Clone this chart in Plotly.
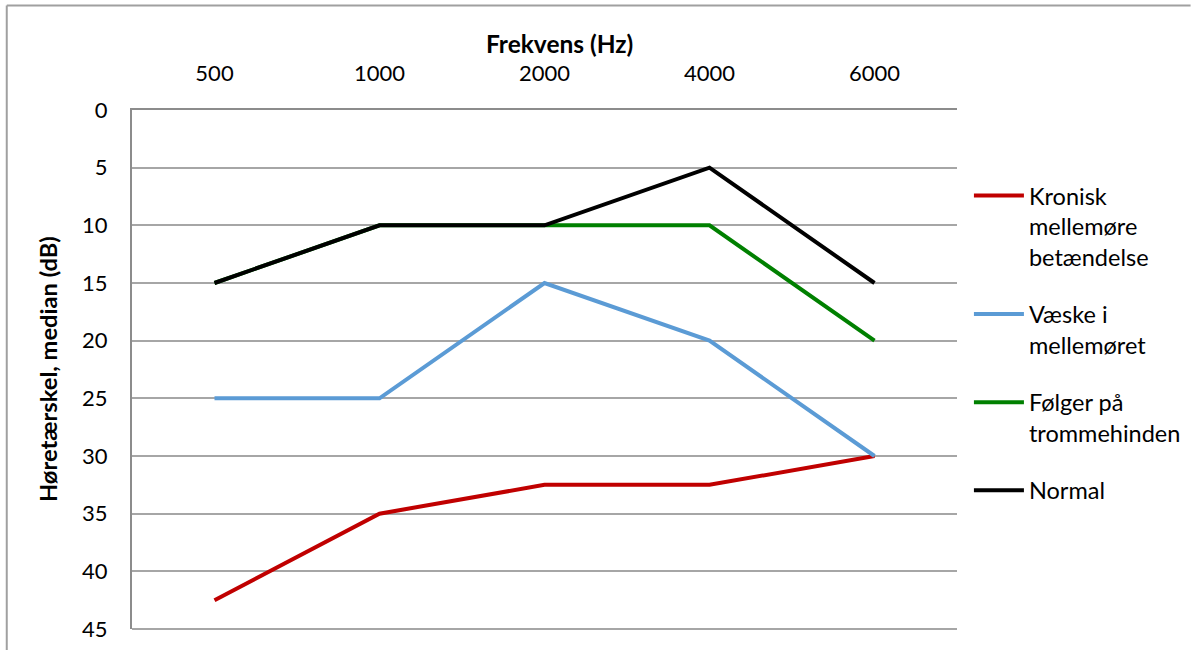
import plotly.graph_objects as go

freqs = ["500", "1000", "2000", "4000", "6000"]
kronisk = [42.5, 35, 32.5, 32.5, 30]
vaeske = [25, 25, 15, 20, 30]
folger = [15, 10, 10, 10, 20]
normal = [15, 10, 10, 5, 15]

series = [
    ("Kronisk<br>mellemøre<br>betændelse", kronisk, "#C00000"),
    ("Væske i<br>mellemøret", vaeske, "#5B9BD5"),
    ("Følger på<br>trommehinden", folger, "#008000"),
    ("Normal", normal, "#000000"),
]

FONT = "Lato"
W, H = 1198, 654
L, R, T, B = 132, 236, 110, 22
pw, ph = W - L - R, H - T - B

fig = go.Figure()
for i, (name, vals, col) in enumerate(series):
    fig.add_trace(go.Scatter(x=freqs, y=vals, mode="lines", name=name,
                             legendgroup=f"g{i}",
                             line=dict(color=col, width=4)))

fig.update_layout(
    width=W, height=H,
    margin=dict(l=L, r=R, t=T, b=B),
    paper_bgcolor="white", plot_bgcolor="white",
    font=dict(family=FONT, size=22, color="black"),
    showlegend=True,
    legend=dict(x=(974 - L) / pw, y=1 - (174 - T) / ph, xanchor="left", yanchor="top",
                font=dict(family=FONT, size=23.5), tracegroupgap=24,
                valign="top", itemwidth=50, bgcolor="rgba(0,0,0,0)"),
    xaxis=dict(type="category", side="top", range=[-0.5, 4.5],
               showgrid=False, showline=True, linecolor="#8C8C8C", linewidth=2,
               mirror=False, ticks="", tickfont=dict(size=22), zeroline=False,
               ticklabelstandoff=18),
    yaxis=dict(range=[45, 0], dtick=5, tick0=0, showgrid=True,
               gridcolor="#A6A6A6", gridwidth=1.5, showline=True,
               linecolor="#8C8C8C", linewidth=2, ticks="", zeroline=False,
               tickfont=dict(size=22), ticklabelstandoff=18),
)

# bottom edge of plot area (45 dB line)
fig.add_shape(type="line", xref="paper", yref="paper", x0=0, x1=1, y0=0, y1=0,
              line=dict(color="#A6A6A6", width=2))

fig.add_annotation(text="<b>Frekvens (Hz)</b>", xref="paper", yref="paper",
                   x=(562 - L) / pw, y=1 + (T - 43) / ph, showarrow=False,
                   font=dict(family=FONT, size=24.5), xanchor="center", yanchor="middle")
fig.add_annotation(text="<b>Høretærskel, median (dB)</b>", xref="paper", yref="paper",
                   x=(47 - L) / pw, y=0.5, textangle=-90, showarrow=False,
                   font=dict(family=FONT, size=23.7), xanchor="center", yanchor="middle")

# outer chart frame (top and left edges; right/bottom lie outside the view)
fx0, fy1 = (6 - L) / pw, 1 + (T - 5) / ph
fx1, fy0 = (W - 1 - L) / pw, -(B - 1) / ph
fig.add_shape(type="line", xref="paper", yref="paper", x0=fx0, x1=fx1, y0=fy1, y1=fy1,
              line=dict(color="#A0A0A0", width=2), layer="below")
fig.add_shape(type="line", xref="paper", yref="paper", x0=fx0, x1=fx0, y0=fy0, y1=fy1,
              line=dict(color="#A0A0A0", width=2), layer="below")

fig.write_html("out.html", config={"displayModeBar": False},
               post_script="document.body.style.margin='0';document.body.style.overflow='hidden';")
